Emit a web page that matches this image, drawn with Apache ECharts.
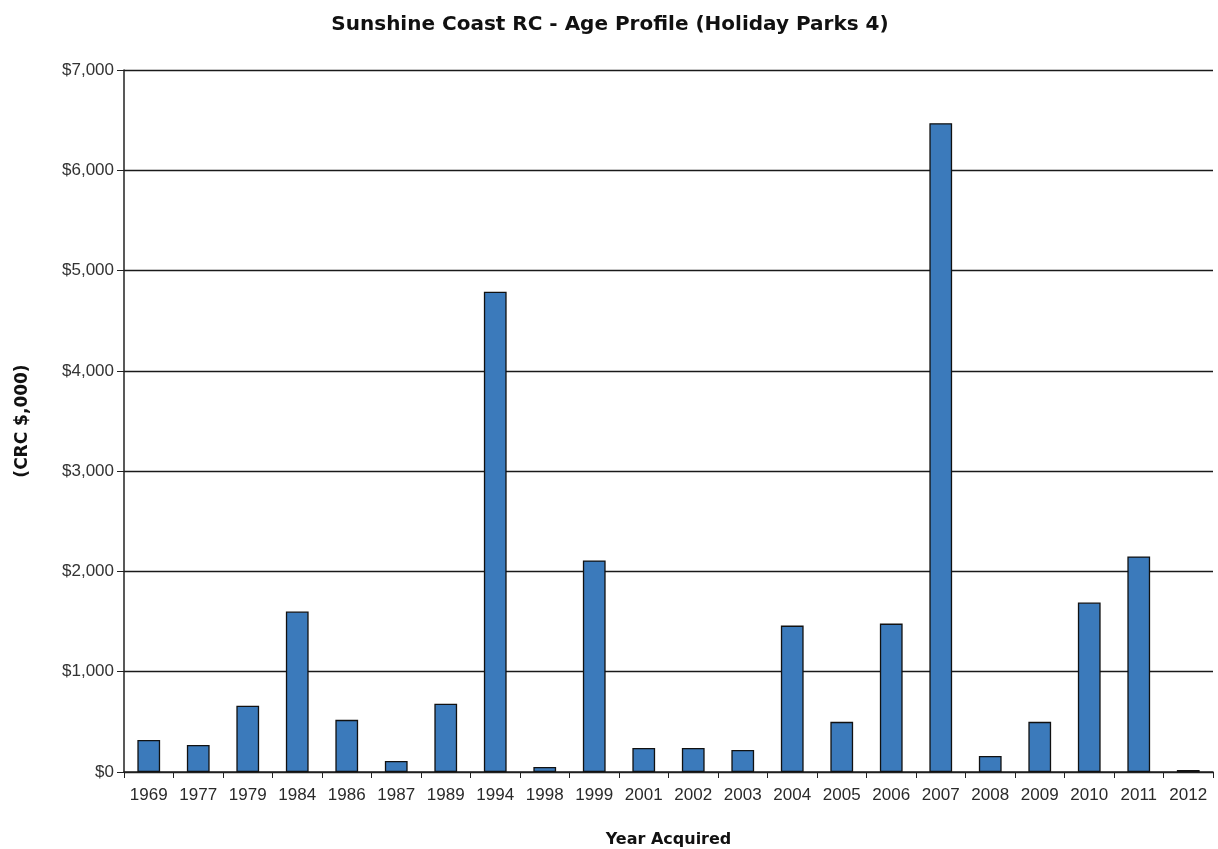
<!DOCTYPE html>
<html>
<head>
<meta charset="utf-8">
<script src="https://cdn.jsdelivr.net/npm/echarts@6/dist/echarts.min.js"></script>
<style>
  html, body { margin: 0; padding: 0; background: #ffffff; }
  #chart { width: 1218px; height: 849px; }
</style>
</head>
<body>
<div id="chart"></div>
<script>
// Year each asset group was acquired
const years = ['1969', '1977', '1979', '1984', '1986', '1987', '1989', '1994', '1998', '1999', '2001',
  '2002', '2003', '2004', '2005', '2006', '2007', '2008', '2009', '2010', '2011', '2012'];

// Current replacement cost, in $ thousands
const crcValues = [320, 270, 660, 1600, 520, 110, 680, 4790, 50, 2110, 240,
  240, 220, 1460, 500, 1480, 6470, 160, 500, 1690, 2150, 20];

// Value axis range and step
const yMin = 0;
const yMax = 7000;
const yStep = 1000;

const chart = echarts.init(document.getElementById('chart'));

chart.setOption({
  animation: false,
  backgroundColor: '#ffffff',
  title: {
    text: 'Sunshine Coast RC - Age Profile (Holiday Parks 4)',
    left: 605,
    textAlign: 'center',
    top: 10,
    textStyle: {
      fontFamily: 'DejaVu Sans',
      fontWeight: 'bold',
      fontSize: 20,
      color: '#111111'
    }
  },
  grid: { left: 124, right: 5, top: 70, bottom: 77, containLabel: false, outerBoundsMode: 'none' },
  xAxis: {
    type: 'category',
    data: years,
    name: 'Year Acquired',
    nameLocation: 'middle',
    nameGap: 60,
    nameTextStyle: {
      fontFamily: 'DejaVu Sans',
      fontWeight: 'bold',
      fontSize: 16,
      color: '#111111'
    },
    axisLine: { lineStyle: { color: '#222222', width: 1.5 } },
    axisTick: { show: true, alignWithLabel: false, length: 6, lineStyle: { color: '#222222' } },
    axisLabel: {
      fontFamily: 'Liberation Sans',
      fontSize: 17,
      color: '#2a2a2a',
      margin: 15,
      interval: 0
    }
  },
  yAxis: {
    type: 'value',
    min: yMin,
    max: yMax,
    interval: yStep,
    name: '(CRC $,000)',
    nameLocation: 'middle',
    nameGap: 93,
    nameRotate: 90,
    nameTextStyle: {
      fontFamily: 'DejaVu Sans',
      fontWeight: 'bold',
      fontSize: 17,
      color: '#111111'
    },
    axisLine: { show: true, lineStyle: { color: '#222222', width: 1.5 } },
    axisTick: { show: true, length: 7, lineStyle: { color: '#222222' } },
    axisLabel: {
      fontFamily: 'Liberation Sans',
      fontSize: 17,
      color: '#333333',
      margin: 10,
      formatter: function (v) { return '$' + v.toLocaleString('en-US'); }
    },
    splitLine: { show: true, lineStyle: { color: '#1a1a1a', width: 1.3 } }
  },
  series: [{
    type: 'bar',
    data: crcValues,
    barWidth: '46%',
    itemStyle: {
      color: '#3b7abb',
      borderColor: '#111111',
      borderWidth: 1.3
    }
  }]
});
</script>
</body>
</html>
